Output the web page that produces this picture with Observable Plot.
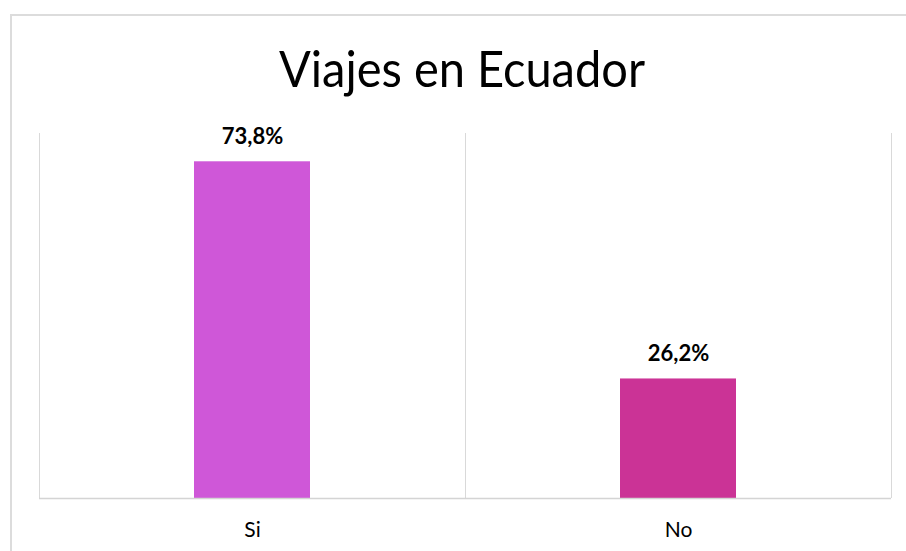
<!DOCTYPE html>
<html>
<head>
<meta charset="utf-8">
<script src="https://cdn.jsdelivr.net/npm/d3@7"></script>
<script src="https://cdn.jsdelivr.net/npm/@observablehq/plot@0.6"></script>
<style>
  html, body { margin: 0; padding: 0; background: #fff; }
  body { width: 906px; height: 551px; position: relative; overflow: hidden; font-family: Lato, "Open Sans", sans-serif; }
  #border { position: absolute; left: 10px; top: 14px; width: 950px; height: 600px;
            border-top: 2px solid #dcdcdc; border-left: 2px solid #dcdcdc; box-sizing: border-box; }
  #title { position: absolute; left: 462px; top: 43px; font-size: 50px; line-height: 50px;
           white-space: nowrap; color: #000; transform: translateX(-50%) scaleX(0.94); transform-origin: center; }
  #chart { position: absolute; left: 0; top: 110px; }
</style>
</head>
<body>
<div id="border"></div>
<div id="title">Viajes en Ecuador</div>
<div id="chart"></div>
<script>
const categories = ["Si", "No"];
const values = [73.8, 26.2];
const labels = ["73,8%", "26,2%"];
const colors = ["#CF57D8", "#CB3396"];

const data = categories.map((c, i) => ({ cat: c, i, value: values[i], label: labels[i], color: colors[i] }));
const boundaries = d3.range(categories.length + 1);

const chart = Plot.plot({
  width: 906,
  height: 441,
  marginLeft: 39,
  marginRight: 15,
  marginTop: 23,
  marginBottom: 53,
  style: { fontFamily: "Lato, 'Open Sans', sans-serif", fontSize: "21px", color: "#000", background: "transparent" },
  x: { type: "linear", domain: [0, categories.length], axis: null },
  y: { domain: [0, 80], axis: null },
  marks: [
    Plot.ruleX(boundaries, { x: d => d, y1: 0, y2: 80, stroke: "#d9d9d9", strokeWidth: 1 }),
    Plot.rectY(data, { x1: d => d.i, x2: d => d.i + 1, y1: 0, y2: "value", fill: "color", insetLeft: 155, insetRight: 155 }),
    Plot.ruleY([0], { stroke: "#d4d4d4", strokeWidth: 1.5 }),
    Plot.text(data, { x: d => d.i + 0.5, y: "value", text: "label", fontWeight: "bold", fill: "#000", dy: -25, fontSize: 22 }),
    Plot.axisX({ ticks: categories.map((_, i) => i + 0.5), tickFormat: d => categories[Math.floor(d)], tickSize: 0, tickPadding: 24, fontSize: 21, fill: "#000" })
  ]
});
document.getElementById("chart").appendChild(chart);
</script>
</body>
</html>
